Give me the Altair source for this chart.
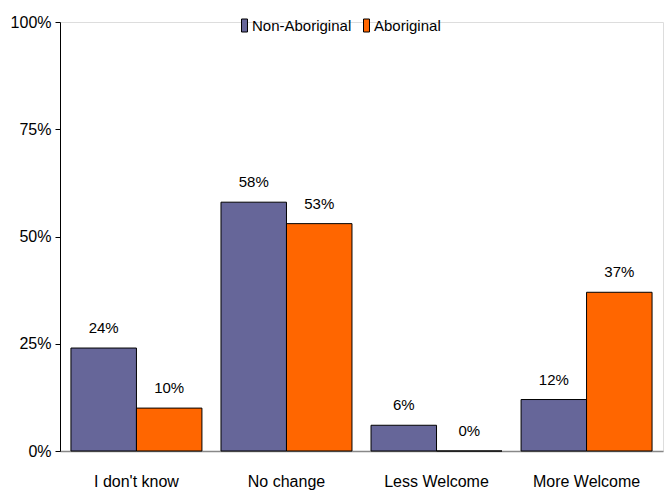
import altair as alt
import pandas as pd

categories = ["I don't know", "No change", "Less Welcome", "More Welcome"]
groups = ["Non-Aboriginal", "Aboriginal"]
non_aboriginal = [24, 58, 6, 12]
aboriginal = [10, 53, 0, 37]
colors = ["#666699", "#FF6600"]

rows = []
for c, a, b in zip(categories, non_aboriginal, aboriginal):
    rows.append({"category": c, "group": groups[0], "value": a, "label": f"{a}%"})
    rows.append({"category": c, "group": groups[1], "value": b, "label": f"{b}%"})
df = pd.DataFrame(rows)

FONT = "Liberation Sans Narrow, Arial Narrow, Liberation Sans, Arial"

x = alt.X("category:N", sort=categories, title=None,
          scale=alt.Scale(paddingInner=0.127, paddingOuter=0.073),
          axis=alt.Axis(labelAngle=0, labelFontSize=16, labelFont=FONT, labelColor="#000",
                        labelPadding=22, ticks=False, domainColor="#888888", domainWidth=1.5))
y = alt.Y("value:Q", title=None,
          scale=alt.Scale(domain=[0, 100], nice=False),
          axis=alt.Axis(values=[0, 25, 50, 75, 100], labelExpr="datum.value + '%'",
                        labelFontSize=16, labelFont=FONT, labelColor="#000", grid=False,
                        domainColor="#000", tickColor="#000", tickSize=5, labelPadding=4))

bars = alt.Chart(df).mark_bar(stroke="#000", strokeWidth=1, opacity=1).encode(
    x=x, y=y,
    xOffset=alt.XOffset("group:N", sort=groups),
    color=alt.Color("group:N", sort=groups,
                    scale=alt.Scale(domain=groups, range=colors),
                    legend=alt.Legend(title=None, orient="none", legendX=177, legendY=-4,
                                      direction="horizontal",
                                      symbolType="M-0.46,-1H0.46V1H-0.46Z",
                                      symbolSize=169, symbolStrokeColor="#000",
                                      symbolStrokeWidth=1, labelFontSize=15, labelFont=FONT,
                                      labelColor="#000", columnPadding=7, labelOffset=0)),
)

labels = alt.Chart(df).mark_text(dy=-20, fontSize=15, font=FONT, color="#000").encode(
    x=alt.X("category:N", sort=categories),
    xOffset=alt.XOffset("group:N", sort=groups),
    y="value:Q",
    text="label:N",
)

chart = alt.layer(bars, labels).properties(
    width=603, height=429,
    padding={"left": 60, "top": 22, "right": 5, "bottom": 43},
    autosize=alt.AutoSizeParams(type="none"),
).configure_view(stroke=None).configure(background="white")

chart.save("out.html", embed_options={"renderer": "svg", "actions": False})
